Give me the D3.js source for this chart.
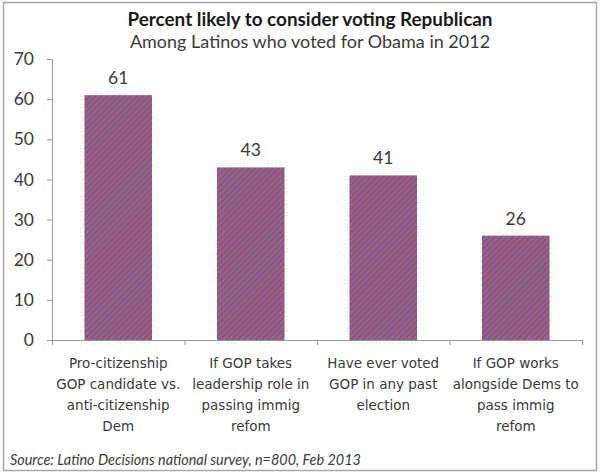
<!DOCTYPE html>
<html><head><meta charset="utf-8">
<script src="https://cdn.jsdelivr.net/npm/d3@7"></script>
<style>body{margin:0;background:#fff}svg{display:block}</style>
</head><body>
<script>
const categories = [
  ["Pro-citizenship","GOP candidate vs.","anti-citizenship","Dem"],
  ["If GOP takes","leadership role in","passing immig","refom"],
  ["Have ever voted","GOP in any past","election"],
  ["If GOP works","alongside Dems to","pass immig","refom"]
];
const values = [61, 43, 41, 26];
const yTicks = [0,10,20,30,40,50,60,70];
const title = "Percent likely to consider voting Republican";
const subtitle = "Among Latinos who voted for Obama in 2012";
const source = "Source: Latino Decisions national survey, n=800, Feb 2013";

const W = 600, H = 475;
const svg = d3.select("body").append("svg").attr("width", W).attr("height", H);
const font = "Lato, 'Open Sans', sans-serif";
const labelFont = "'DejaVu Sans', sans-serif";

const defs = svg.append("defs");
const pat = defs.append("pattern").attr("id","stripes").attr("patternUnits","userSpaceOnUse")
  .attr("width",4.2).attr("height",4.2).attr("patternTransform","rotate(45)");
pat.append("rect").attr("width",4.2).attr("height",4.2).attr("fill","#4c7fc4");
pat.append("rect").attr("width",2.1).attr("height",4.2).attr("fill","#d63a45");

svg.append("rect").attr("x",3.5).attr("y",2.5).attr("width",593).attr("height",468)
  .attr("fill","#fff").attr("stroke","#a8a8a8").attr("stroke-width",1.5);

const pLeft = 52, pRight = 582, pTop = 59, pBottom = 340;
const x = d3.scaleBand().domain(d3.range(categories.length)).range([pLeft,pRight]).paddingInner(0.49).paddingOuter(0.245);
const y = d3.scaleLinear().domain([0,70]).range([pBottom, pTop]);

svg.append("text").attr("x",310).attr("y",26).attr("text-anchor","middle")
  .attr("font-family",font).attr("font-weight","bold").attr("font-size",18.9).attr("fill","#1a1a1a").text(title);
svg.append("text").attr("x",310).attr("y",48).attr("text-anchor","middle")
  .attr("font-family",font).attr("font-size",18).attr("fill","#3a3a3a").text(subtitle);

const yAxis = svg.append("g").attr("transform",`translate(${pLeft},0)`)
  .call(d3.axisLeft(y).tickValues(yTicks).tickSize(5).tickPadding(13));
yAxis.select(".domain").attr("stroke","#999");
yAxis.selectAll(".tick line").attr("stroke","#999");
yAxis.selectAll(".tick text").attr("font-family",font).attr("font-size",17.5).attr("fill","#3a3a3a");

const xb = d3.scaleLinear().domain([0,categories.length]).range([pLeft,pRight]);
const xAxis = svg.append("g").attr("transform",`translate(0,${pBottom})`)
  .call(d3.axisBottom(xb).tickValues(d3.range(1,categories.length+1)).tickSize(5).tickFormat(""));
xAxis.select(".domain").attr("stroke","#999");
xAxis.selectAll(".tick line").attr("stroke","#999");

svg.selectAll("rect.bar").data(values).join("rect").attr("class","bar")
  .attr("x",(d,i)=>x(i)).attr("width",x.bandwidth())
  .attr("y",d=>y(d)).attr("height",d=>y(0)-y(d)).attr("fill","url(#stripes)");

svg.selectAll("text.val").data(values).join("text").attr("class","val")
  .attr("x",(d,i)=>x(i)+x.bandwidth()/2).attr("y",d=>y(d)-11)
  .attr("text-anchor","middle").attr("font-family",font).attr("font-size",17.5).attr("fill","#3a3a3a").text(d=>d);

categories.forEach((lines,i)=>{
  const t = svg.append("text").attr("text-anchor","middle").attr("font-family",labelFont)
    .attr("font-size",13.5).attr("fill","#3a3a3a");
  lines.forEach((ln,j)=>{
    t.append("tspan").attr("x",x(i)+x.bandwidth()/2).attr("y",368+j*21).text(ln);
  });
});

svg.append("text").attr("x",10).attr("y",465).attr("font-family",font).attr("font-style","italic")
  .attr("font-size",14.4).attr("fill","#3a3a3a").text(source);
</script>
</body></html>
